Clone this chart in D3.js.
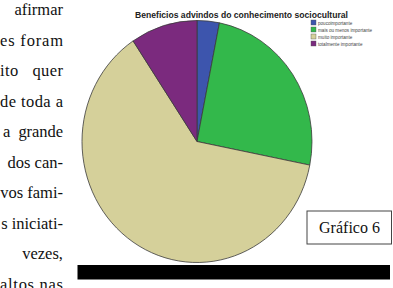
<!DOCTYPE html>
<html><head><meta charset="utf-8">
<script src="https://cdn.jsdelivr.net/npm/d3@7"></script>
<style>html,body{margin:0;padding:0;background:#fff;overflow:hidden}</style>
</head><body>
<svg id="c" width="393" height="288"></svg>
<script>
const categories = ["poucoimportante", "mais ou menos importante", "muito importante", "totalmente importante"];
const values = [1, 8, 20, 3];
const colors = ["#3d55ad", "#33b84b", "#d5d09a", "#7b2a7e"];
const title = "Beneficios advindos do conhecimento sociocultural";
const sideLines = ["afirmar", "es foram", "ito   quer", "de toda a", "a  grande", "dos can-", "vos fami-", "s iniciati-", "vezes,", "altos nas"];
const sideJustify = [false, true, true, true, true, false, false, false, false, true];
const caption = "Gráfico 6";

const svg = d3.select("#c");

// side text (serif, right aligned / justified)
const lineY = d3.scalePoint().domain(d3.range(sideLines.length)).range([15, 290]);
sideLines.forEach((t, i) => {
  const el = svg.append("text")
    .attr("x", 63).attr("y", lineY(i))
    .attr("text-anchor", "end")
    .attr("font-family", "Liberation Serif, serif")
    .attr("font-size", 16.5)
    .attr("fill", "#111")
    .attr("xml:space", "preserve")
    .text(t);
  if (sideJustify[i]) el.attr("textLength", i === 4 ? 60 : 63).attr("lengthAdjust", "spacing");
});

// title
svg.append("text").attr("x", 135).attr("y", 18)
  .attr("font-family", "Liberation Sans, Arial, sans-serif")
  .attr("font-weight", "bold").attr("font-size", 8.6).attr("fill", "#222")
  .text(title);

// pie (slightly elliptical)
const cx = 197, cy = 141.5, rx = 115, ry = 121;
const pie = d3.pie().sort(null).value(d => d)(values);
const arc = d3.arc().innerRadius(0).outerRadius(rx);
svg.append("g").attr("transform", `translate(${cx},${cy}) scale(1,${ry/rx})`)
  .selectAll("path").data(pie).join("path")
  .attr("d", arc)
  .attr("fill", (d, i) => colors[i])
  .attr("stroke", "#3a3a3a").attr("stroke-width", 0.8)
  .attr("vector-effect", "non-scaling-stroke");

// legend
const lg = svg.append("g").attr("transform", "translate(311,20)");
categories.forEach((c, i) => {
  const g = lg.append("g").attr("transform", `translate(0,${i * 7})`);
  g.append("rect").attr("width", 5).attr("height", 5).attr("fill", colors[i]).attr("stroke", "#555").attr("stroke-width", 0.4);
  g.append("text").attr("x", 7).attr("y", 4.6)
    .attr("font-family", "Liberation Sans, Arial, sans-serif")
    .attr("font-size", 4.6).attr("fill", "#444").text(c);
});

// caption box
svg.append("rect").attr("x", 307).attr("y", 211).attr("width", 84.5).attr("height", 33)
  .attr("fill", "#fff").attr("stroke", "#444").attr("stroke-width", 1);
svg.append("text").attr("x", 349.5).attr("y", 233).attr("text-anchor", "middle")
  .attr("font-family", "Liberation Serif, serif").attr("font-size", 16).attr("fill", "#111")
  .text(caption);

// black bar
svg.append("rect").attr("x", 77.5).attr("y", 265).attr("width", 312.5).attr("height", 14.5).attr("fill", "#000");
</script>
</body></html>
